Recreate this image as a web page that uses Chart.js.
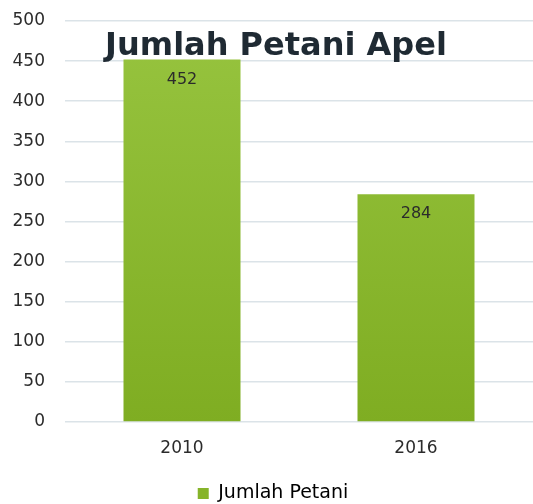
<!DOCTYPE html>
<html>
<head>
<meta charset="utf-8">
<script src="https://cdn.jsdelivr.net/npm/chart.js@4"></script>
<style>
  html, body { margin: 0; padding: 0; background: #fff; }
  #wrap { width: 533px; height: 504px; }
</style>
</head>
<body>
<div id="wrap"><canvas id="chart"></canvas></div>
<script>
const years = ["2010", "2016"];
const farmers = [452, 284];
const seriesName = "Jumlah Petani";
const chartTitle = "Jumlah Petani Apel";
const yTicks = [0, 50, 100, 150, 200, 250, 300, 350, 400, 450, 500];

const fontFamily = "'DejaVu Sans', sans-serif";

function barGradient(context) {
  const area = context.chart.chartArea;
  if (!area) {
    return "#8bb830";
  }
  const g = context.chart.ctx.createLinearGradient(0, area.top, 0, area.bottom);
  g.addColorStop(0, "#97c43f");
  g.addColorStop(1, "#7fad22");
  return g;
}

// value labels just inside the top of each bar
const valueLabels = {
  id: "valueLabels",
  afterDatasetsDraw(chart) {
    const ctx = chart.ctx;
    const meta = chart.getDatasetMeta(0);
    ctx.save();
    ctx.font = "16px " + fontFamily;
    ctx.fillStyle = "#2b2b2b";
    ctx.textAlign = "center";
    ctx.textBaseline = "top";
    meta.data.forEach((bar, i) => {
      ctx.fillText(String(farmers[i]), bar.x, bar.y + 12);
    });
    ctx.restore();
  },
};

// big title sits over the plot, like in the original
const overlayTitle = {
  id: "overlayTitle",
  afterDraw(chart) {
    const ctx = chart.ctx;
    const area = chart.chartArea;
    ctx.save();
    ctx.font = "bold 32px " + fontFamily;
    ctx.fillStyle = "#1f2a33";
    ctx.textAlign = "center";
    ctx.textBaseline = "middle";
    ctx.fillText(chartTitle, (area.left + area.right) / 2 - 23, area.top + 26);
    ctx.restore();
  },
};

new Chart(document.getElementById("chart"), {
  type: "bar",
  data: {
    labels: years,
    datasets: [
      {
        label: seriesName,
        data: farmers,
        backgroundColor: barGradient,
        borderWidth: 0,
        categoryPercentage: 1,
        barPercentage: 0.5,
      },
    ],
  },
  options: {
    responsive: true,
    maintainAspectRatio: false,
    animation: false,
    layout: { padding: { left: 13, right: 0, top: 21, bottom: -9 } },
    plugins: {
      title: { display: false },
      tooltip: { enabled: false },
      legend: {
        position: "bottom",
        labels: {
          font: { family: fontFamily, size: 19 },
          color: "#2b2b2b",
          boxWidth: 11,
          boxHeight: 11,
          padding: 4,
          generateLabels(chart) {
            return [
              {
                text: seriesName,
                fillStyle: "#86b42a",
                strokeStyle: "#86b42a",
                lineWidth: 0,
                datasetIndex: 0,
              },
            ];
          },
        },
      },
    },
    scales: {
      x: {
        grid: { display: false },
        border: { display: false },
        afterFit(axis) {
          axis.height = 58;
        },
        ticks: {
          font: { family: fontFamily, size: 17 },
          color: "#2b2b2b",
          padding: 8,
        },
      },
      y: {
        min: 0,
        max: 500,
        afterBuildTicks(axis) {
          axis.ticks = yTicks.map((v) => ({ value: v }));
        },
        afterFit(axis) {
          axis.width = 52;
          axis.paddingTop = 0;
          axis.paddingBottom = 0;
        },
        grid: { color: "#dbe3e8", lineWidth: 1.5, drawTicks: false },
        border: { display: false },
        ticks: {
          font: { family: fontFamily, size: 17 },
          color: "#2b2b2b",
          padding: 20,
        },
      },
    },
  },
  plugins: [valueLabels, overlayTitle],
});
</script>
</body>
</html>
